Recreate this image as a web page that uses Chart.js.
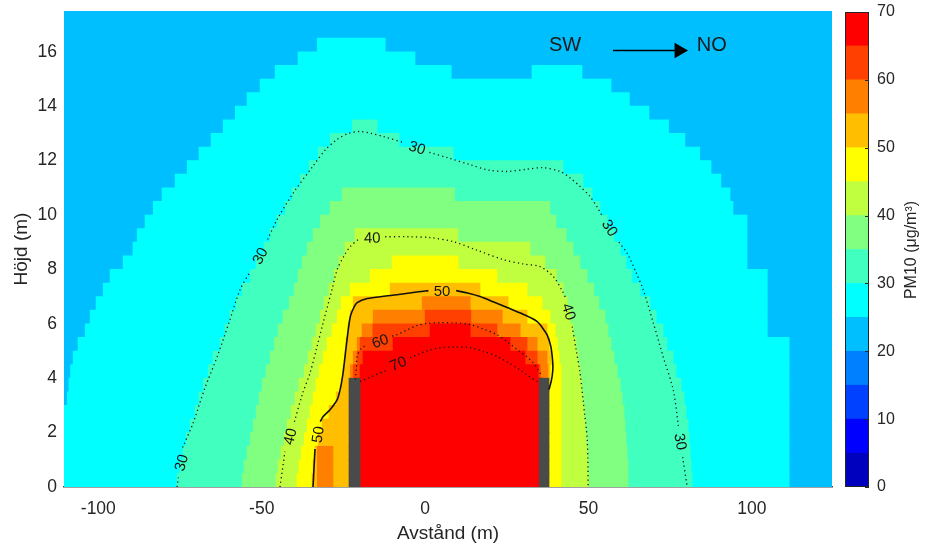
<!DOCTYPE html>
<html><head><meta charset="utf-8">
<script src="https://cdn.jsdelivr.net/npm/chart.js@4.4.1/dist/chart.umd.min.js"></script>
<style>
html,body{margin:0;padding:0;background:#fff;}
#wrap{position:relative;width:928px;height:550px;overflow:hidden;}
#main{position:absolute;left:0;top:0;}
#cbar{position:absolute;left:840px;top:0;}
</style></head><body>
<div id="wrap"><canvas id="main" width="928" height="550"></canvas><canvas id="cbar" width="88" height="550"></canvas></div>
<script>
// ---------- axes / ticks ----------
const xRange = [-110.5, 124.5];
const yRange = [0, 17.5];
const rowHeight = 0.5;
const xTicks = [-100, -50, 0, 50, 100];
const yTicks = [0, 2, 4, 6, 8, 10, 12, 14, 16];
const cbTicks = [0, 10, 20, 30, 40, 50, 60, 70];
const levels = [0,5,10,15,20,25,30,35,40,45,50,55,60,65,70];
const levelColors = ['#0000BF','#0000FF','#0040FF','#0080FF','#00BFFF','#00FFFF','#40FFBF','#80FF80','#BFFF40','#FFFF00','#FFBF00','#FF8000','#FF4000','#FF0000'];

// ---------- concentration bands: [row bottom (m), x from (m), x to (m)] where PM10 >= level ----------
const band25 = [
 [0,-110.5,111.4],[0.5,-110.5,111.4],[1,-110.5,111.4],[1.5,-110.5,111.4],[2,-110.5,111.4],[2.5,-110.5,111.4],
 [3,-109.5,111.4],[3.5,-109,111.4],[4,-108.5,111.4],[4.5,-107.7,111.4],[5,-106.2,111.4],
 [5.5,-104,104.7],[6,-102.5,104.7],[6.5,-100.7,104.7],[7,-98.5,104.7],[7.5,-96.4,104.7],
 [8,-92.4,98.5],[8.5,-89.4,98.5],[9,-88.1,98.5],[9.5,-85.7,98.5],
 [10,-83.2,94.2],[10.5,-80.5,93.3],[11,-76.5,90.5],[11.5,-72.8,87.5],[12,-69.2,84],[12.5,-65.5,79.5],
 [13,-61.8,74.5],[13.5,-58.1,68.5],[14,-54.5,62.5],[14.5,-50.5,56.9],
 [15,-45.9,8],[15,32.7,48],[15.5,-38.9,-3.1],[16,-33,-12.2]
];
const band30 = [
 [0,-75.9,81.7],[0.5,-75,81.4],[1,-74.1,81.1],[1.5,-73.1,80.8],[2,-71.9,80.5],[2.5,-70.4,79.9],
 [3,-69.2,79.3],[3.5,-67.9,78.3],[4,-66.4,76.8],[4.5,-64.9,75.9],[5,-62.7,74],[5.5,-61.2,72.8],
 [6,-59.7,70.7],[6.5,-57.8,68.8],[7,-56,65.8],[7.5,-53.5,63.3],[8,-51.7,61.5],[8.5,-49.3,59.7],
 [9,-47.4,57.8],[9.5,-45.3,55.7],[10,-42.8,53.5],[10.5,-40.7,51.1],[11,-38.2,48.3],[11.5,-35.5,42.2],
 [12,-32.7,8.6],[12.5,-29.1,-8],[13,-22.3,-14.7]
];
const band35 = [
 [0,-56,62.1],[0.5,-55.4,62.1],[1,-54.5,61.8],[1.5,-53.5,61.5],[2,-52.6,61.2],[2.5,-51.7,60.9],
 [3,-50.8,60.3],[3.5,-49.9,59.7],[4,-48.7,58.8],[4.5,-47.4,57.8],[5,-46.2,56.9],[5.5,-45,56],
 [6,-43.5,55.1],[6.5,-41.6,53.2],[7,-40.1,51.6],[7.5,-38.9,49.6],[8,-37.6,47.4],[8.5,-36.1,45.3],
 [9,-34.3,43.2],[9.5,-32.1,40],[10,-29.1,38.2],[10.5,-25.4,9]
];
const band40 = [
 [0,-45.6,50],[0.5,-45,49.8],[1,-44.1,49.6],[1.5,-43.1,49.3],[2,-42.2,49],[2.5,-41,48.7],
 [3,-39.8,48.3],[3.5,-38.6,47.9],[4,-37,47.4],[4.5,-35.8,46.8],[5,-34.6,46.2],[5.5,-33.4,45.3],
 [6,-32.1,44.4],[6.5,-30.9,43.5],[7,-29.4,42.2],[7.5,-27.8,40.1],[8,-26.3,36.7],[8.5,-24.5,32.1],
 [9,-21.5,10]
];
const band45 = [
 [0,-39.2,41.6],[0.5,-38.6,41.6],[1,-37.9,41.6],[1.5,-37,41.6],[2,-36.1,41.6],[2.5,-35.2,41.6],
 [3,-34.3,41.6],[3.5,-33.4,41.6],[4,-32.4,41.6],[4.5,-31.2,41],[5,-30,40.4],[5.5,-28.5,39.8],
 [6,-26.9,38.2],[6.5,-25.7,35.8],[7,-22.9,31.2],[7.5,-16.8,22],[8,-10.1,10.1]
];
const band50 = [
 [0,-34.6,37.9],[0.5,-34.3,37.9],[1,-33.7,37.9],[1.5,-32.7,37.9],[2,-31.5,37.9],[2.5,-29.4,37.9],
 [3,-27.2,37.9],[3.5,-25.7,37.9],[4,-25.1,38.2],[4.5,-24.5,38.6],[5,-24.2,37.9],[5.5,-23.6,37.3],
 [6,-22.9,31.2],[6.5,-22,25.4],[7,-10.7,16.8]
];
const band55 = [
 [0,-33,-28.2],[0.5,-33,-28.2],[1,-33,-28.2],
 [4,-22.9,37.6],[4.5,-22,37.3],[5,-20.8,34.3],[5.5,-19.3,29.1],[6,-15.9,23.6],[6.5,-0.9,13.8]
];
const band60 = [
 [4,-22,35.2],[4.5,-20.8,34.3],[5,-19.9,31.2],[5.5,-16,22],[6,0,14]
];
const band65 = [
 [0,-21,36],[0.5,-21,36],[1,-21,36],[1.5,-21,36],[2,-21,36],[2.5,-21,36],[3,-21,36],[3.5,-21,36],
 [4,-19.9,34.6],[4.5,-19,30.6],[5,-9.8,26],[5.5,1.5,13.8]
];

// walls: [x from, x to, height]
const walls = [[-23.3,-19.9,4],[34.9,37.9,4]];

// ---------- contour lines ([x, y], null = gap for label) ----------
const contour30 = [
 [-75.9,0],[-75.5,0.35],null,
 [-74.2,1.45],[-71,2.35],[-67.5,3.6],[-63.6,4.8],[-60,6.05],[-56.6,7.26],[-53.6,7.9],null,
 [-48.2,9.1],[-45.3,9.83],[-40.4,10.8],[-34.3,11.8],[-30.5,12.4],[-26.9,12.78],[-23.5,13.0],[-19.9,13.07],[-16.5,13.0],[-12.9,12.89],[-6.2,12.65],null,
 [1.3,12.3],[7,12.1],[13.8,11.85],[19.5,11.65],[25.1,11.6],[31,11.68],[36.1,11.74],[41.3,11.6],[44.5,11.35],[47.4,11.05],[50.3,10.7],[52.6,10.3],[54,10.0],null,
 [59.3,9.0],[61.8,8.6],[64.5,7.9],[66.7,7.26],[69.8,6.04],[72.8,4.8],[75.9,3.58],[77.5,2.25],null,
 [78.8,1.1],[80.2,0]
];
const contour40 = [
 [-44.4,0],[-42.9,1.3],null,
 [-40,2.4],[-37.6,3.4],[-35.2,4.2],[-33.2,5.1],[-31.2,6.04],[-28.5,7.26],[-26.9,7.99],[-24.8,8.5],[-22.9,8.84],[-20.3,9.12],null,
 [-12.2,9.2],[-5,9.2],[1.5,9.17],[8.6,9.02],[16,8.7],[23.9,8.36],[30,8.2],[35.2,8.1],[39.2,7.74],[42,7.2],[43.2,6.9],null,
 [45,5.9],[46.2,5.05],[47.4,4.2],[48.5,3.0],[49.6,1.74],[49.9,0]
];
const contour50 = [
 [-34.3,0],[-34,0.7],[-33.7,1.4],null,
 [-32.1,2.4],[-31.2,2.59],[-29.1,2.84],[-26.9,3.21],[-25.8,3.7],[-25.1,4.2],[-24.5,4.8],[-23.9,5.42],[-22.9,6.26],[-21.8,6.6],[-20.8,6.78],[-17.7,6.93],[-12,7.02],[-8.6,7.07],[-2,7.18],[1,7.22],null,
 [9.5,7.22],[13,7.13],[16.8,7.0],[21,6.8],[25.1,6.6],[30,6.35],[34.3,6.08],[36.2,5.8],[37.3,5.6],[38.4,5.2],[38.9,4.79],[39.1,4.4],[38.9,4.1],[38.5,3.85],[37.9,3.58]
];
const contour60 = [
 [-21.4,3.95],[-21,4.4],[-20.8,4.8],[-19.5,5.1],[-17.6,5.22],null,
 [-10.1,5.55],[-8.6,5.6],[-5.5,5.78],[-2.4,5.94],[1,6.02],[4.6,6.04],[9,6.03],[13.8,5.97],[18,5.8],[22,5.6],[25.5,5.3],[28.2,5.05],[31,4.8],[33,4.57],[34.6,4.3],[35.8,4.06]
];
const contour70 = [
 [-19.9,3.88],[-16.5,4.05],[-12,4.28],null,
 [-4.6,4.76],[-2.4,4.87],[1,5.02],[4.6,5.12],[9,5.15],[13.8,5.12],[18,4.98],[22,4.8],[25.8,4.55],[29.1,4.3],[32,4.05],[34.3,3.88]
];
const contourLabels = [
 {text:'30', x:-74.7, y:0.9, angle:-74},
 {text:'30', x:-50.6, y:8.5, angle:-62},
 {text:'30', x:-2.4, y:12.48, angle:17},
 {text:'30', x:56.6, y:9.53, angle:58},
 {text:'30', x:78.2, y:1.67, angle:80},
 {text:'40', x:-41.4, y:1.86, angle:-76},
 {text:'40', x:-16.2, y:9.17, angle:-1},
 {text:'40', x:44.1, y:6.45, angle:72},
 {text:'50', x:-32.9, y:1.93, angle:-82},
 {text:'50', x:5.2, y:7.22, angle:0},
 {text:'60', x:-13.8, y:5.37, angle:-20},
 {text:'70', x:-8.3, y:4.55, angle:-22}
];

// wind direction annotation
const windText = [{text:'SW', x:42.8, y:16.22},{text:'NO', x:87.7, y:16.22}];
const windArrow = [[57.5,16.05],[77.7,16.05]];

// ---------- build ----------
const FONT = '"Liberation Sans", Arial, Helvetica, sans-serif';
const TXT = '#262626';
const band20 = [];
for (let yb = yRange[0]; yb < yRange[1] - 1e-9; yb += rowHeight) band20.push([yb, xRange[0], xRange[1]]);
const bandList = [[20,band20],[25,band25],[30,band30],[35,band35],[40,band40],[45,band45],[50,band50],[55,band55],[60,band60],[65,band65]];
const toBars = rows => rows.map(r => ({y: r[0] + rowHeight/2, x: [r[1], r[2]]}));

const datasets = [];
bandList.forEach(([lv, rows]) => {
  const li = levels.indexOf(lv);
  datasets.push({type:'bar', data: toBars(rows), backgroundColor: levelColors[li], borderWidth:0,
    barPercentage:1, categoryPercentage:1, grouped:false, indexAxis:'y', order: 100 - li});
});
const wallRows = [];
walls.forEach(w => { for (let yb = 0; yb < w[2] - 1e-9; yb += rowHeight) wallRows.push([yb, w[0], w[1]]); });
datasets.push({type:'bar', data: toBars(wallRows), backgroundColor:'#4a4a4a', borderWidth:0,
  barPercentage:1, categoryPercentage:1, grouped:false, indexAxis:'y', order: 20});

const toPts = arr => arr.map(p => p ? {x:p[0], y:p[1]} : {x:null, y:null});
const lineDs = (arr, solid) => ({type:'line', data: toPts(arr), indexAxis:'x', borderColor:'#111', borderWidth: solid ? 1.6 : 1.3,
  borderDash: solid ? [] : [1.2, 3.2], pointRadius:0, tension:0.3, spanGaps:false, fill:false, order:10});
datasets.push(lineDs(contour30,false), lineDs(contour40,false), lineDs(contour50,true), lineDs(contour60,false), lineDs(contour70,false));
datasets.push({type:'line', data: toPts(windArrow), indexAxis:'x', borderColor:'#000', borderWidth:1.5,
  pointRadius:[0,9], pointStyle:'triangle', pointRotation:90, pointBackgroundColor:'#000', pointBorderWidth:0, fill:false, order:5});

const textPlugin = {
  id:'texts',
  afterDatasetsDraw(chart) {
    const {ctx, scales:{x, y}} = chart;
    ctx.save();
    ctx.textAlign = 'center'; ctx.textBaseline = 'middle';
    ctx.fillStyle = '#151515';
    ctx.font = '15px ' + FONT;
    contourLabels.forEach(l => {
      ctx.save();
      ctx.translate(x.getPixelForValue(l.x), y.getPixelForValue(l.y));
      ctx.rotate(l.angle * Math.PI / 180);
      ctx.fillText(l.text, 0, 1);
      ctx.restore();
    });
    ctx.fillStyle = '#1a1a1a';
    ctx.font = '20px ' + FONT;
    windText.forEach(t => ctx.fillText(t.text, x.getPixelForValue(t.x), y.getPixelForValue(t.y)));
    ctx.restore();
  }
};

new Chart(document.getElementById('main'), {
  type:'bar',
  data:{datasets},
  options:{
    responsive:false, animation:false, events:[], indexAxis:'y',
    layout:{padding:{top:11, right:96, left:0, bottom:0}},
    plugins:{legend:{display:false}, tooltip:{enabled:false}},
    scales:{
      x:{type:'linear', min:xRange[0], max:xRange[1], z:1,
        afterBuildTicks: s => { s.ticks = xTicks.map(v => ({value:v})); },
        afterFit: s => { s.height = 63; s.paddingLeft = 0; s.paddingRight = 0; },
        ticks:{font:{family:FONT, size:17.5}, color:TXT, padding:12, maxRotation:0},
        grid:{display:false, drawTicks:false},
        border:{display:true, color:'#444', width:1.5},
        title:{display:true, text:'Avstånd (m)', font:{family:FONT, size:19}, color:TXT, padding:{top:0, bottom:4.6}}
      },
      y:{type:'linear', min:yRange[0], max:yRange[1], offset:false,
        afterBuildTicks: s => { s.ticks = yTicks.map(v => ({value:v})); },
        afterFit: s => { s.width = 64; s.paddingTop = 0; s.paddingBottom = 0; },
        ticks:{font:{family:FONT, size:17.5}, color:TXT, padding:7},
        grid:{display:false, drawTicks:false},
        border:{display:false},
        title:{display:true, text:'Höjd (m)', font:{family:FONT, size:19}, color:TXT, padding:{top:10.6, bottom:0}}
      }
    }
  },
  plugins:[textPlugin]
});

// ---------- colour bar ----------
const cbPlugin = {
  id:'cbdeco',
  afterDatasetsDraw(chart) {
    const {ctx, chartArea:a, scales:{y}} = chart;
    ctx.save();
    ctx.strokeStyle = '#262626'; ctx.lineWidth = 1;
    ctx.strokeRect(a.left + 0.5, a.top + 0.5, a.right - a.left - 1, a.bottom - a.top - 1);
    cbTicks.forEach(v => {
      const py = Math.round(y.getPixelForValue(v)) + 0.5;
      ctx.beginPath(); ctx.moveTo(a.right - 4, py); ctx.lineTo(a.right, py); ctx.stroke();
    });
    ctx.fillStyle = TXT;
    ctx.font = '16px ' + FONT;
    ctx.textAlign = 'center'; ctx.textBaseline = 'middle';
    ctx.translate(72, 250);
    ctx.rotate(-Math.PI / 2);
    ctx.fillText('PM10 (μg/m³)', 0, 0);
    ctx.restore();
  }
};
new Chart(document.getElementById('cbar'), {
  type:'bar',
  data:{labels:[''], datasets: levelColors.map((c, i) => ({data:[levels[i+1] - levels[i]], backgroundColor:c, borderWidth:0,
    barPercentage:1, categoryPercentage:1, stack:'cb'}))},
  options:{
    responsive:false, animation:false, events:[],
    layout:{padding:{left:5, top:12, bottom:63, right:0}},
    plugins:{legend:{display:false}, tooltip:{enabled:false}},
    scales:{
      x:{display:false, stacked:true},
      y:{stacked:true, position:'right', min:levels[0], max:levels[levels.length-1],
        afterBuildTicks: s => { s.ticks = cbTicks.map(v => ({value:v})); },
        afterFit: s => { s.width = 59; s.paddingTop = 0; s.paddingBottom = 0; },
        ticks:{font:{family:FONT, size:16}, color:TXT, padding:8},
        grid:{display:false, drawTicks:false},
        border:{display:false}
      }
    }
  },
  plugins:[cbPlugin]
});
</script></body></html>
